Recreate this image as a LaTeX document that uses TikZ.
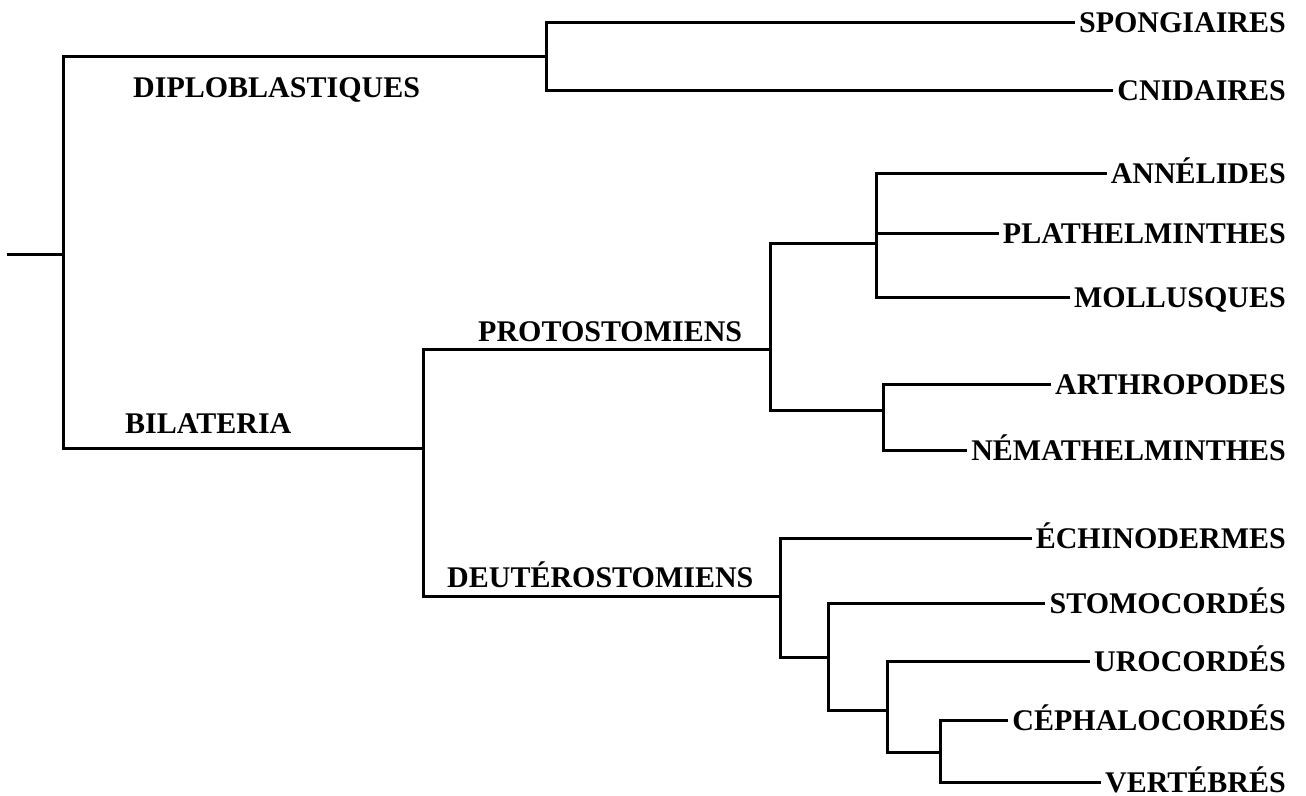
\documentclass[tikz,border=0pt]{standalone}
\usepackage{fontspec}
\setmainfont{Liberation Serif}
\begin{document}
\begin{tikzpicture}[x=1pt,y=-1pt,
  edge/.style={line width=3pt,line join=miter},
  leaf/.style={anchor=east,inner xsep=4pt,inner ysep=0pt,text height=20pt,text depth=0pt,font=\fontsize{30}{31}\selectfont\bfseries},
  clade/.style={anchor=base west,inner sep=0pt,font=\fontsize{30}{31}\selectfont\bfseries}]
\useasboundingbox (0,0) rectangle (1306,795);
% leaves
\node[leaf] (spong) at (1290,22) {SPONGIAIRES};
\node[leaf] (cnid) at (1290,90) {CNIDAIRES};
\node[leaf] (ann) at (1290,173) {ANNÉLIDES};
\node[leaf] (plat) at (1290,233) {PLATHELMINTHES};
\node[leaf] (moll) at (1290,297) {MOLLUSQUES};
\node[leaf] (arth) at (1290,384) {ARTHROPODES};
\node[leaf] (nema) at (1290,450) {NÉMATHELMINTHES};
\node[leaf] (ech) at (1290,538) {ÉCHINODERMES};
\node[leaf] (stom) at (1290,603) {STOMOCORDÉS};
\node[leaf] (uro) at (1290,661) {UROCORDÉS};
\node[leaf] (ceph) at (1290,720) {CÉPHALOCORDÉS};
\node[leaf] (vert) at (1290,782) {VERTÉBRÉS};
% clade labels
\node[clade] (ldip) at (133,97) {DIPLOBLASTIQUES};
\node[clade] (lbil) at (125,433) {BILATERIA};
\node[clade] (lpro) at (478,341) {PROTOSTOMIENS};
\node[clade] (ldeu) at (447,587) {DEUTÉROSTOMIENS};
% internal nodes
\coordinate (r0) at (7,254);
\coordinate (n1) at (63,254);
\coordinate (dip) at (546,56);
\coordinate (bil) at (423,448);
\coordinate (pro) at (770,349);
\coordinate (p1) at (876,243);
\coordinate (p2) at (883,410);
\coordinate (deu) at (780,596);
\coordinate (d1) at (828,657);
\coordinate (d2) at (887,710);
\coordinate (d3) at (940,752);
% edges
\draw[edge] (r0) -- (n1);
\draw[edge] (n1) |- (dip);
\draw[edge] (n1) |- (bil);
\draw[edge] (dip) |- (spong.west);
\draw[edge] (dip) |- (cnid.west);
\draw[edge] (bil) |- (pro);
\draw[edge] (bil) |- (deu);
\draw[edge] (pro) |- (p1);
\draw[edge] (pro) |- (p2);
\draw[edge] (p1) |- (ann.west);
\draw[edge] (p1) |- (plat.west);
\draw[edge] (p1) |- (moll.west);
\draw[edge] (p2) |- (arth.west);
\draw[edge] (p2) |- (nema.west);
\draw[edge] (deu) |- (ech.west);
\draw[edge] (deu) |- (d1);
\draw[edge] (d1) |- (stom.west);
\draw[edge] (d1) |- (d2);
\draw[edge] (d2) |- (uro.west);
\draw[edge] (d2) |- (d3);
\draw[edge] (d3) |- (ceph.west);
\draw[edge] (d3) |- (vert.west);
\end{tikzpicture}
\end{document}
